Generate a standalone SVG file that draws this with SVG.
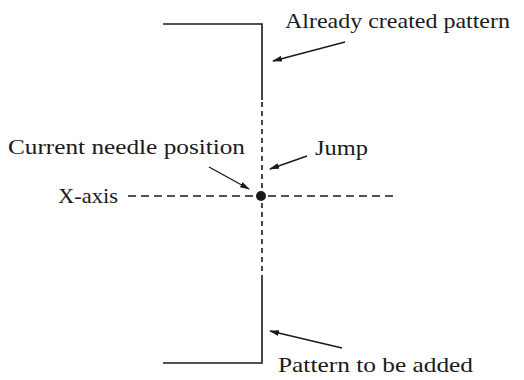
<svg xmlns="http://www.w3.org/2000/svg" width="524" height="380" viewBox="0 0 524 380">
<style>
.t{font-family:"Liberation Serif","Times New Roman",serif;font-size:21px;fill:#1a1a1a}
.s{stroke:#1a1a1a;stroke-width:1.6;fill:none}
.d{stroke:#1a1a1a;stroke-width:1.6;fill:none;stroke-dasharray:5 4}
.dx{stroke:#1a1a1a;stroke-width:1.6;fill:none;stroke-dasharray:8 5}
.a{stroke:#1a1a1a;stroke-width:1.4;fill:none;marker-end:url(#ah)}
</style>
<defs>
<marker id="ah" viewBox="0 0 10 6" refX="9" refY="3" markerWidth="10" markerHeight="6" markerUnits="userSpaceOnUse" orient="auto">
<path d="M0,0 L10,3 L0,6 Z" fill="#1a1a1a"/>
</marker>
</defs>
<rect width="524" height="380" fill="#fff"/>
<g id="already-created-pattern">
<polyline class="s" points="163,24 262,24 262,100"/>
</g>
<g id="jump-path">
<line class="d" x1="262" y1="102" x2="262" y2="190"/>
<line class="d" x1="262" y1="203" x2="262" y2="276"/>
</g>
<g id="pattern-to-be-added">
<polyline class="s" points="262,276 262,363 163,363"/>
</g>
<g id="x-axis">
<line class="dx" x1="128" y1="196" x2="254" y2="196"/>
<line class="dx" x1="268" y1="196" x2="394" y2="196"/>
</g>
<g id="needle">
<circle cx="261" cy="196" r="5" fill="#1a1a1a"/>
</g>
<g id="connectors">
<line class="a" x1="345" y1="42" x2="273" y2="61"/>
<line class="a" x1="307" y1="156" x2="270" y2="169"/>
<line class="a" x1="209" y1="167" x2="249" y2="189"/>
<line class="a" x1="342" y1="348" x2="270" y2="331"/>
</g>
<g id="labels">
<text class="t" x="285" y="28" textLength="225" lengthAdjust="spacingAndGlyphs">Already created pattern</text>
<text class="t" x="8" y="154" textLength="237" lengthAdjust="spacingAndGlyphs">Current needle position</text>
<text class="t" x="315" y="155" textLength="53" lengthAdjust="spacingAndGlyphs">Jump</text>
<text class="t" x="58" y="203" textLength="60" lengthAdjust="spacingAndGlyphs">X-axis</text>
<text class="t" x="278" y="372" textLength="195" lengthAdjust="spacingAndGlyphs">Pattern to be added</text>
</g>
</svg>
